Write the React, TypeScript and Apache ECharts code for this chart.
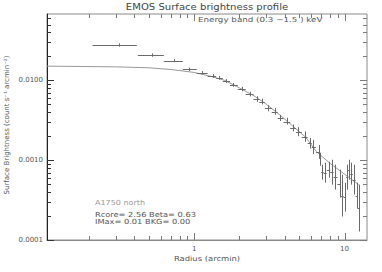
import React, { useEffect, useRef } from 'react';
import * as echarts from 'echarts';

// Axis ranges
const X_MIN = 0.105;
const X_MAX = 14.1;
const Y_MIN = 0.0001;
const Y_MAX = 0.068;

// Tick values
const xMajorTicks = [1, 10];
const xMinorTicks = [0.2, 0.3, 0.4, 0.5, 0.6, 0.7, 0.8, 0.9, 2, 3, 4, 5, 6, 7, 8, 9];
const yMajorTicks = [0.0001, 0.001, 0.01];
const yMinorTicks = [
  0.0002, 0.0003, 0.0004, 0.0005, 0.0006, 0.0007, 0.0008, 0.0009,
  0.002, 0.003, 0.004, 0.005, 0.006, 0.007, 0.008, 0.009,
  0.02, 0.03, 0.04, 0.05, 0.06,
];

// Measured profile (radius in arcmin, brightness)
const radius = [
  0.315, 0.525, 0.736, 0.926, 1.13, 1.34, 1.46, 1.64, 1.82, 2.07, 2.35, 2.61, 2.81, 3.11,
  3.45, 3.73, 4.13, 4.57, 4.93, 5.47, 5.9, 6.21, 6.71, 6.89, 7.1, 7.43, 7.82, 8.24, 8.67,
  9.26, 9.61, 10.1, 10.4, 10.7, 11.1, 11.6, 12.1, 12.4,
];
const radiusLow = [
  0.211, 0.422, 0.628, 0.841, 1.04, 1.23, 1.4, 1.55, 1.73, 1.95, 2.2, 2.48, 2.71, 2.95,
  3.28, 3.59, 3.93, 4.35, 4.75, 5.2, 5.68, 6.05, 6.45, 6.8, 6.99, 7.26, 7.62, 8.03, 8.45,
  8.96, 9.43, 9.85, 10.25, 10.55, 10.9, 11.35, 11.85, 12.25,
];
const radiusHigh = [
  0.415, 0.628, 0.841, 1.04, 1.23, 1.4, 1.55, 1.73, 1.95, 2.2, 2.48, 2.71, 2.95, 3.28,
  3.59, 3.93, 4.35, 4.75, 5.2, 5.68, 6.05, 6.45, 6.8, 6.99, 7.26, 7.62, 8.03, 8.45, 8.96,
  9.43, 9.85, 10.25, 10.55, 10.9, 11.35, 11.85, 12.25, 12.6,
];
const brightness = [
  0.0278, 0.0208, 0.0177, 0.0138, 0.01252, 0.0114, 0.0108, 0.00986, 0.00879, 0.00776,
  0.00672, 0.00582, 0.00543, 0.00449, 0.00407, 0.00337, 0.00305, 0.00253, 0.00229, 0.00198,
  0.00164, 0.00146, 0.00128, 0.00107, 0.000708, 0.000698, 0.000761, 0.000708, 0.000613,
  0.000508, 0.00036, 0.000345, 0.000613, 0.000761, 0.000678, 0.00057, 0.00036, 0.000255,
];
const brightnessLow = [
  0.0265, 0.0198, 0.0169, 0.0131, 0.0119, 0.0108, 0.0102, 0.0093, 0.0083, 0.0073,
  0.0063, 0.0054, 0.005, 0.0041, 0.0037, 0.0031, 0.0028, 0.0023, 0.002, 0.0017,
  0.0014, 0.0012, 0.00105, 0.000853, 0.00057, 0.000523, 0.000604, 0.000494, 0.000428,
  0.00034, 0.000197, 0.000227, 0.000428, 0.00057, 0.000494, 0.000371, 0.000248, 0.000128,
];
const brightnessHigh = [
  0.0292, 0.0218, 0.0186, 0.0145, 0.0131, 0.012, 0.0114, 0.0104, 0.0093, 0.0083,
  0.0072, 0.0063, 0.0059, 0.0049, 0.0045, 0.0037, 0.0034, 0.0028, 0.0026, 0.0023,
  0.0019, 0.0018, 0.00155, 0.00124, 0.000879, 0.000931, 0.000957, 0.001014, 0.000879,
  0.000761, 0.000659, 0.000523, 0.000879, 0.001014, 0.000931, 0.000879, 0.000523, 0.000494,
];

// Beta-model fit curve
const modelRadius = [0.105, 0.3, 0.5, 0.7, 1.0, 1.3, 1.6, 2.0, 2.5, 3.0, 3.7, 4.5, 5.5, 6.5, 8.0, 10.0, 12.4];
const modelValue = [
  0.0151, 0.0148, 0.0144, 0.0137, 0.0126, 0.0112, 0.01, 0.00806, 0.0064, 0.00508,
  0.00371, 0.0027, 0.00195, 0.00128, 0.000914, 0.000668, 0.000494,
];

const FONT = 'DejaVu Sans';

const isDecade = (v: number) => {
  const l = Math.log10(v);
  return Math.abs(l - Math.round(l)) < 1e-6;
};

export default function App() {
  const ref = useRef<HTMLDivElement>(null);

  useEffect(() => {
    if (!ref.current) return;
    const chart = echarts.init(ref.current, null, { renderer: 'svg' });

    const tickData: number[][] = [
      ...xMinorTicks.map((v) => [v, Y_MIN, 0]),
      ...xMajorTicks.map((v) => [v, Y_MIN, 1]),
      ...yMinorTicks.map((v) => [X_MIN, v, 2]),
      ...yMajorTicks.map((v) => [X_MIN, v, 3]),
    ];

    const errData = radius.map((r, i) => [
      r, brightness[i], brightnessLow[i], brightnessHigh[i], radiusLow[i], radiusHigh[i],
    ]);

    const tickStyle = { stroke: '#7a7a7a', lineWidth: 1 };

    const txt = (text: string, x: number, y: number, size: number, fill: string, align = 'left', extra: any = {}) => ({
      type: 'text',
      x,
      y,
      ...extra,
      style: {
        text,
        align, verticalAlign: 'middle',
        textAlign: align, textVerticalAlign: 'middle',
        font: `${size}px "${FONT}"`, fill,
      },
    });

    const option: any = {
      animation: false,
      backgroundColor: '#ffffff',
      grid: {
        left: 47,
        right: 15,
        top: 14,
        bottom: 32,
        show: true,
        borderColor: '#8a8a8a',
        borderWidth: 1,
      },
      xAxis: {
        type: 'log',
        logBase: 10,
        min: X_MIN,
        max: X_MAX,
        axisLine: { show: true, lineStyle: { color: '#8a8a8a', width: 1 } },
        axisTick: { show: false },
        splitLine: { show: false },
        axisLabel: {
          margin: 5,
          fontSize: 7,
          fontFamily: FONT,
          color: '#555',
          showMinLabel: false,
          showMaxLabel: false,
          formatter: (v: number) => (isDecade(v) ? String(Math.round(v)) : ''),
        },
      },
      yAxis: {
        type: 'log',
        logBase: 10,
        min: Y_MIN,
        max: Y_MAX,
        axisLine: { show: true, lineStyle: { color: '#222', width: 1 } },
        axisTick: { show: false },
        splitLine: { show: false },
        axisLabel: {
          margin: 4,
          fontSize: 7,
          fontFamily: FONT,
          color: '#555',
          showMinLabel: true,
          showMaxLabel: false,
          formatter: (v: number) => (isDecade(v) ? v.toFixed(4) : ''),
        },
      },
      series: [
        {
          type: 'line',
          data: modelRadius.map((r, i) => [r, modelValue[i]]),
          showSymbol: false,
          symbol: 'none',
          lineStyle: { color: '#999', width: 1 },
          z: 2,
        },
        {
          type: 'custom',
          data: errData,
          encode: { x: 0, y: 1 },
          z: 3,
          renderItem: (params: any, api: any) => {
            const pLo = api.coord([api.value(0), api.value(2)]);
            const pHi = api.coord([api.value(0), api.value(3)]);
            const pL = api.coord([api.value(4), api.value(1)]);
            const pR = api.coord([api.value(5), api.value(1)]);
            const style = { stroke: '#6a6a6a', lineWidth: 1 };
            const x = Math.round(pLo[0]) + 0.5;
            const y = Math.round(pL[1]) + 0.5;
            return {
              type: 'group',
              children: [
                { type: 'line', shape: { x1: x, y1: pLo[1], x2: x, y2: pHi[1] }, style },
                { type: 'line', shape: { x1: pL[0], y1: y, x2: pR[0], y2: y }, style },
              ],
            };
          },
        },
        {
          type: 'custom',
          data: tickData,
          encode: { x: 0, y: 1 },
          z: 4,
          clip: false,
          renderItem: (params: any, api: any) => {
            const cs = params.coordSys;
            const kind = api.value(2);
            const p = api.coord([api.value(0), api.value(1)]);
            if (kind < 2) {
              const len = kind === 1 ? 7 : 4;
              const x = Math.round(p[0]) + 0.5;
              const yb = cs.y + cs.height;
              return {
                type: 'group',
                children: [
                  { type: 'line', shape: { x1: x, y1: yb, x2: x, y2: yb - len }, style: tickStyle },
                  { type: 'line', shape: { x1: x, y1: cs.y, x2: x, y2: cs.y + len }, style: tickStyle },
                ],
              };
            }
            const len = kind === 3 ? 7 : 4;
            const y = Math.round(p[1]) + 0.5;
            const xr = cs.x + cs.width;
            return {
              type: 'group',
              children: [
                { type: 'line', shape: { x1: cs.x, y1: y, x2: cs.x + len, y2: y }, style: { stroke: '#333', lineWidth: 1 } },
                { type: 'line', shape: { x1: xr, y1: y, x2: xr - len, y2: y }, style: tickStyle },
              ],
            };
          },
        },
      ],
      graphic: [
        txt('EMOS Surface brightness profile', 207, 7, 9, '#444', 'center', { scaleX: 1.12 }),
        txt('Energy band (0.3 \u22121.5 ) keV', 198, 20, 7, '#555', 'left', { scaleX: 1.25 }),
        txt('Surface Brightness (count s\u207B\u00B9 arcmin\u207B\u00B2)', 7, 125, 7, '#555', 'center', { rotation: Math.PI / 2 }),
        txt('Radius (arcmin)', 207, 259, 7, '#555', 'center', { scaleX: 1.2 }),
        txt('A1750 north', 95, 203, 7, '#999', 'left', { scaleX: 1.15 }),
        txt('Rcore= 2.56 Beta= 0.63', 95, 214.5, 7, '#555', 'left', { scaleX: 1.18 }),
        txt('IMax= 0.01 BKG= 0.00', 95, 222, 7, '#555', 'left', { scaleX: 1.18 }),
      ],
    };

    chart.setOption(option);
    return () => chart.dispose();
  }, []);

  return (
    <div
      ref={ref}
      style={{ position: 'fixed', left: 0, top: 0, width: 382, height: 272, background: '#fff' }}
    />
  );
}
